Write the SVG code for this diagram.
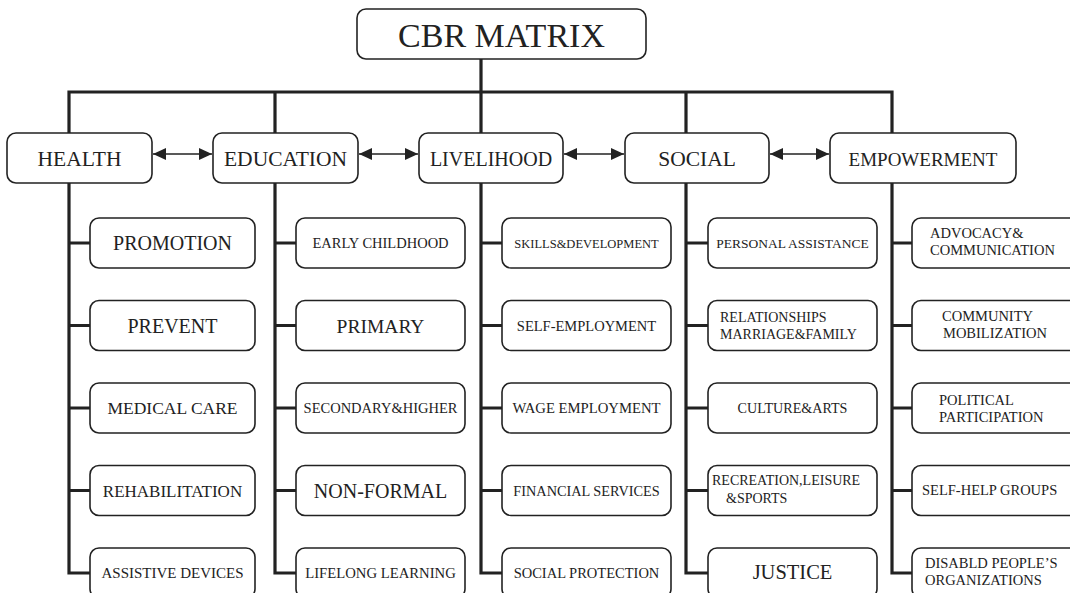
<svg xmlns="http://www.w3.org/2000/svg" width="1070" height="593" viewBox="0 0 1070 593">
<style>
.box{fill:#fff;stroke:#222;stroke-width:1.6}
.t{fill:#222}
.c{text-anchor:middle}
.wire{fill:none;stroke:#222;stroke-width:3.2;stroke-linejoin:miter}
.arr{stroke:#222;stroke-width:1.6;marker-start:url(#ah);marker-end:url(#ah)}
</style>
<defs>
<marker id="ah" markerUnits="userSpaceOnUse" markerWidth="14" markerHeight="14" refX="13" refY="7" orient="auto-start-reverse">
<path d="M0,1 L13,7 L0,13 z" fill="#222"/>
</marker>
</defs>
<rect width="1070" height="593" fill="#fff"/>
<g id="connectors">
<path class="wire" d="M481,59 V92 M69,150 V92 H892 V150 M275,92 V150 M481,92 V150 M686,92 V150"/>
<path class="wire" d="M69,183 V573 H90 M69,243 H90 M69,325.5 H90 M69,408 H90 M69,490.5 H90"/>
<path class="wire" d="M275,183 V573 H296 M275,243 H296 M275,325.5 H296 M275,408 H296 M275,490.5 H296"/>
<path class="wire" d="M481,183 V573 H502 M481,243 H502 M481,325.5 H502 M481,408 H502 M481,490.5 H502"/>
<path class="wire" d="M686,183 V573 H708 M686,243 H708 M686,325.5 H708 M686,408 H708 M686,490.5 H708"/>
<path class="wire" d="M892,183 V573 H912 M892,243 H912 M892,325.5 H912 M892,408 H912 M892,490.5 H912"/>
<line class="arr" x1="153" y1="154" x2="212" y2="154"/>
<line class="arr" x1="359" y1="154" x2="418" y2="154"/>
<line class="arr" x1="564" y1="154" x2="624" y2="154"/>
<line class="arr" x1="770" y1="154" x2="829" y2="154"/>
</g>
<g id="root"><rect class="box" x="357" y="9" width="289" height="50" rx="9"/><text font-family="Liberation Serif" class="t c" x="501.5" y="47" font-size="34">CBR MATRIX</text></g>
<g id="health"><rect class="box" x="7" y="133" width="145" height="50" rx="9"/><text font-family="Liberation Serif" class="t c" x="79.5" y="166" font-size="21.5">HEALTH</text></g>
<g id="education"><rect class="box" x="213" y="133" width="145" height="50" rx="9"/><text font-family="Liberation Serif" class="t c" x="285.5" y="166" font-size="21.5">EDUCATION</text></g>
<g id="livelihood"><rect class="box" x="419" y="133" width="144" height="50" rx="9"/><text font-family="Liberation Serif" class="t c" x="491" y="166" font-size="20">LIVELIHOOD</text></g>
<g id="social"><rect class="box" x="625" y="133" width="144" height="50" rx="9"/><text font-family="Liberation Serif" class="t c" x="697" y="166" font-size="21.5">SOCIAL</text></g>
<g id="empowerment"><rect class="box" x="830" y="133" width="186" height="50" rx="9"/><text font-family="Liberation Serif" class="t c" x="923" y="166" font-size="19">EMPOWERMENT</text></g>

<g id="promotion"><rect class="box" x="90" y="218" width="165" height="50" rx="9"/><text font-family="Liberation Serif" class="t c" x="172.5" y="250" font-size="20">PROMOTION</text></g>
<g id="prevent"><rect class="box" x="90" y="300.5" width="165" height="50" rx="9"/><text font-family="Liberation Serif" class="t c" x="172.5" y="332.5" font-size="20">PREVENT</text></g>
<g id="medical-care"><rect class="box" x="90" y="383" width="165" height="50" rx="9"/><text font-family="Liberation Serif" class="t c" x="172.5" y="414" font-size="17.5">MEDICAL CARE</text></g>
<g id="rehabilitation"><rect class="box" x="90" y="465.5" width="165" height="50" rx="9"/><text font-family="Liberation Serif" class="t c" x="172.5" y="496.5" font-size="17">REHABILITATION</text></g>
<g id="assistive-devices"><rect class="box" x="90" y="548" width="165" height="50" rx="9"/><text font-family="Liberation Serif" class="t c" x="172.5" y="578" font-size="15">ASSISTIVE DEVICES</text></g>

<g id="early-childhood"><rect class="box" x="296" y="218" width="169" height="50" rx="9"/><text font-family="Liberation Serif" class="t c" x="380.5" y="248" font-size="14.5">EARLY CHILDHOOD</text></g>
<g id="primary"><rect class="box" x="296" y="300.5" width="169" height="50" rx="9"/><text font-family="Liberation Serif" class="t c" x="380.5" y="332.5" font-size="19.5">PRIMARY</text></g>
<g id="secondary-higher"><rect class="box" x="296" y="383" width="169" height="50" rx="9"/><text font-family="Liberation Serif" class="t c" x="380.5" y="413" font-size="14.5">SECONDARY&amp;HIGHER</text></g>
<g id="non-formal"><rect class="box" x="296" y="465.5" width="169" height="50" rx="9"/><text font-family="Liberation Serif" class="t c" x="380.5" y="497.5" font-size="20">NON-FORMAL</text></g>
<g id="lifelong-learning"><rect class="box" x="296" y="548" width="169" height="50" rx="9"/><text font-family="Liberation Serif" class="t c" x="380.5" y="578" font-size="14.7">LIFELONG LEARNING</text></g>

<g id="skills-development"><rect class="box" x="502" y="218" width="169" height="50" rx="9"/><text font-family="Liberation Serif" class="t c" x="586.5" y="247.5" font-size="12.5">SKILLS&amp;DEVELOPMENT</text></g>
<g id="self-employment"><rect class="box" x="502" y="300.5" width="169" height="50" rx="9"/><text font-family="Liberation Serif" class="t c" x="586.5" y="330.5" font-size="14.5">SELF-EMPLOYMENT</text></g>
<g id="wage-employment"><rect class="box" x="502" y="383" width="169" height="50" rx="9"/><text font-family="Liberation Serif" class="t c" x="586.5" y="413" font-size="14.7">WAGE EMPLOYMENT</text></g>
<g id="financial-services"><rect class="box" x="502" y="465.5" width="169" height="50" rx="9"/><text font-family="Liberation Serif" class="t c" x="586.5" y="495.5" font-size="14.3">FINANCIAL SERVICES</text></g>
<g id="social-protection"><rect class="box" x="502" y="548" width="169" height="50" rx="9"/><text font-family="Liberation Serif" class="t c" x="586.5" y="578" font-size="14.5">SOCIAL PROTECTION</text></g>

<g id="personal-assistance"><rect class="box" x="708" y="218" width="169" height="50" rx="9"/><text font-family="Liberation Serif" class="t c" x="792.5" y="248" font-size="13.5">PERSONAL ASSISTANCE</text></g>
<g id="relationships"><rect class="box" x="708" y="300.5" width="169" height="50" rx="9"/><text font-family="Liberation Serif" class="t" x="720" y="322" font-size="14">RELATIONSHIPS</text><text font-family="Liberation Serif" class="t" x="720" y="339" font-size="14">MARRIAGE&amp;FAMILY</text></g>
<g id="culture-arts"><rect class="box" x="708" y="383" width="169" height="50" rx="9"/><text font-family="Liberation Serif" class="t c" x="792.5" y="413" font-size="14.1">CULTURE&amp;ARTS</text></g>
<g id="recreation"><rect class="box" x="708" y="465.5" width="169" height="50" rx="9"/><text font-family="Liberation Serif" class="t" x="712" y="485" font-size="14">RECREATION,LEISURE</text><text font-family="Liberation Serif" class="t" x="726" y="503" font-size="14">&amp;SPORTS</text></g>
<g id="justice"><rect class="box" x="708" y="548" width="169" height="50" rx="9"/><text font-family="Liberation Serif" class="t c" x="792.5" y="579" font-size="20.5">JUSTICE</text></g>

<g id="advocacy"><rect class="box" x="912" y="218" width="170" height="50" rx="9"/><text font-family="Liberation Serif" class="t" x="930" y="238" font-size="14.5">ADVOCACY&amp;</text><text font-family="Liberation Serif" class="t" x="930" y="255" font-size="14.5">COMMUNICATION</text></g>
<g id="community-mobilization"><rect class="box" x="912" y="300.5" width="170" height="50" rx="9"/><text font-family="Liberation Serif" class="t" x="942" y="321" font-size="14.5">COMMUNITY</text><text font-family="Liberation Serif" class="t" x="943" y="338" font-size="14.5">MOBILIZATION</text></g>
<g id="political-participation"><rect class="box" x="912" y="383" width="170" height="50" rx="9"/><text font-family="Liberation Serif" class="t" x="939" y="405" font-size="14.5">POLITICAL</text><text font-family="Liberation Serif" class="t" x="939" y="422" font-size="14.5">PARTICIPATION</text></g>
<g id="self-help-groups"><rect class="box" x="912" y="465.5" width="170" height="50" rx="9"/><text font-family="Liberation Serif" class="t" x="922" y="495" font-size="14.5">SELF-HELP GROUPS</text></g>
<g id="dpo"><rect class="box" x="912" y="548" width="170" height="50" rx="9"/><text font-family="Liberation Serif" class="t" x="925" y="568" font-size="14.5">DISABLD PEOPLE’S</text><text font-family="Liberation Serif" class="t" x="925" y="585" font-size="14.5">ORGANIZATIONS</text></g>
</svg>
